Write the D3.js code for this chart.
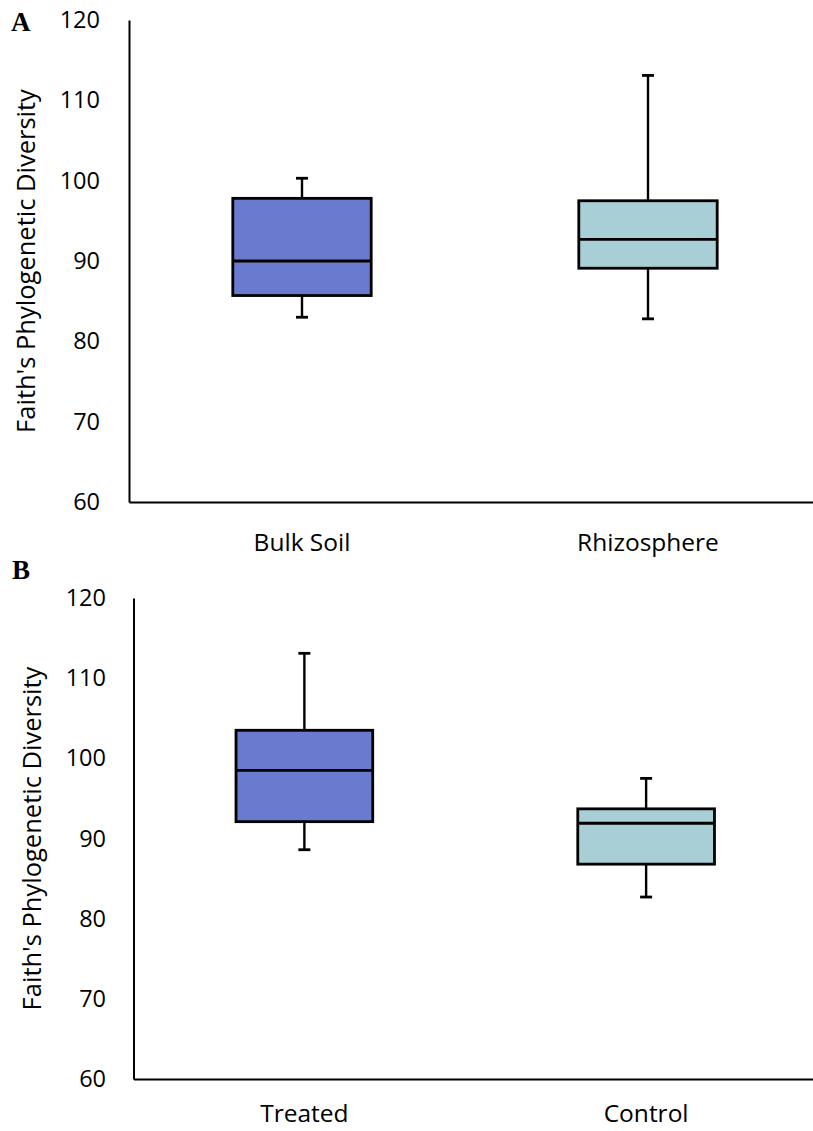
<!DOCTYPE html>
<html>
<head>
<meta charset="utf-8">
<script src="https://cdn.jsdelivr.net/npm/d3@7"></script>
<style>
  html, body { margin: 0; padding: 0; background: #fff; }
  svg { display: block; }
</style>
</head>
<body>
<svg id="chart" width="813" height="1131"></svg>
<script>
// ---------- DATA ----------
const yTicks = [60, 70, 80, 90, 100, 110, 120];
const yTitle = "Faith's Phylogenetic Diversity";

const categoriesA = ["Bulk Soil", "Rhizosphere"];
const minA    = [83.0, 82.8];
const q1A     = [85.7, 89.1];
const medianA = [90.0, 92.7];
const q3A     = [97.8, 97.5];
const maxA    = [100.3, 113.1];

const categoriesB = ["Treated", "Control"];
const minB    = [88.6, 82.7];
const q1B     = [92.1, 86.8];
const medianB = [98.5, 91.9];
const q3B     = [103.5, 93.7];
const maxB    = [113.1, 97.5];

const fills = ["#6a7bcf", "#a7cfd5"];

// ---------- DRAW ----------
const svg = d3.select("#chart");
const SANS = "'Open Sans', sans-serif";
const SERIF = "'Liberation Serif', 'Times New Roman', serif";

function panel(opts) {
  const { letter, cats, mins, q1s, meds, q3s, maxs, x0, x1, yTop, yBot, letterX, letterY, tickRight, titleX, labelY } = opts;
  const g = svg.append("g");

  const y = d3.scaleLinear().domain([60, 120]).range([yBot, yTop]);
  const x = d3.scaleBand().domain(cats).range([x0, x1]).paddingInner(0.6).paddingOuter(0.3);

  // y axis
  const ya = g.append("g").attr("transform", `translate(${x0},0)`)
    .call(d3.axisLeft(y).tickValues(yTicks).tickSize(0).tickSizeOuter(0).tickPadding(x0 - tickRight));
  ya.select(".domain").attr("stroke", "#000").attr("stroke-width", 2);
  ya.selectAll(".tick text").style("font-size", "23.5px").style("font-family", SANS).attr("fill", "#000");

  // x axis
  const xa = g.append("g").attr("transform", `translate(0,${yBot})`)
    .call(d3.axisBottom(x).tickSize(0).tickSizeOuter(0).tickPadding(0));
  xa.select(".domain").attr("stroke", "#000").attr("stroke-width", 2);
  xa.selectAll(".tick text").style("font-size", "24.5px").style("font-family", SANS).attr("fill", "#000")
    .attr("dy", null).attr("y", labelY - yBot).attr("dominant-baseline", "central");

  // y title
  g.append("text")
    .attr("transform", `translate(${titleX},${(yTop + yBot) / 2}) rotate(-90)`)
    .attr("text-anchor", "middle").attr("dominant-baseline", "central")
    .style("font-family", SANS).style("font-size", "25.5px").attr("fill", "#000").text(yTitle);

  // panel letter
  g.append("text").attr("x", letterX).attr("y", letterY)
    .style("font-family", SERIF).style("font-weight", "bold").style("font-size", "27px")
    .attr("fill", "#000").text(letter);

  // boxes
  const bw = x.bandwidth();
  const capW = 12;
  cats.forEach((c, i) => {
    const cx = x(c) + bw / 2;
    const bg = g.append("g");
    bg.append("line").attr("x1", cx).attr("x2", cx).attr("y1", y(maxs[i])).attr("y2", y(q3s[i]))
      .attr("stroke", "#000").attr("stroke-width", 2.4);
    bg.append("line").attr("x1", cx).attr("x2", cx).attr("y1", y(q1s[i])).attr("y2", y(mins[i]))
      .attr("stroke", "#000").attr("stroke-width", 2.4);
    bg.append("line").attr("x1", cx - capW / 2).attr("x2", cx + capW / 2).attr("y1", y(maxs[i])).attr("y2", y(maxs[i]))
      .attr("stroke", "#000").attr("stroke-width", 2.8);
    bg.append("line").attr("x1", cx - capW / 2).attr("x2", cx + capW / 2).attr("y1", y(mins[i])).attr("y2", y(mins[i]))
      .attr("stroke", "#000").attr("stroke-width", 2.8);
    bg.append("rect").attr("x", x(c)).attr("width", bw)
      .attr("y", y(q3s[i])).attr("height", y(q1s[i]) - y(q3s[i]))
      .attr("fill", fills[i]).attr("stroke", "#000").attr("stroke-width", 2.8);
    bg.append("line").attr("x1", x(c)).attr("x2", x(c) + bw).attr("y1", y(meds[i])).attr("y2", y(meds[i]))
      .attr("stroke", "#000").attr("stroke-width", 2.8);
  });
}

panel({
  letter: "A", cats: categoriesA, mins: minA, q1s: q1A, meds: medianA, q3s: q3A, maxs: maxA,
  x0: 129, x1: 821, yTop: 20, yBot: 502, letterX: 11, letterY: 31, tickRight: 100, titleX: 25, labelY: 541
});
panel({
  letter: "B", cats: categoriesB, mins: minB, q1s: q1B, meds: medianB, q3s: q3B, maxs: maxB,
  x0: 133.5, x1: 817, yTop: 598, yBot: 1079, letterX: 12, letterY: 579, tickRight: 106, titleX: 31, labelY: 1112
});
</script>
</body>
</html>
